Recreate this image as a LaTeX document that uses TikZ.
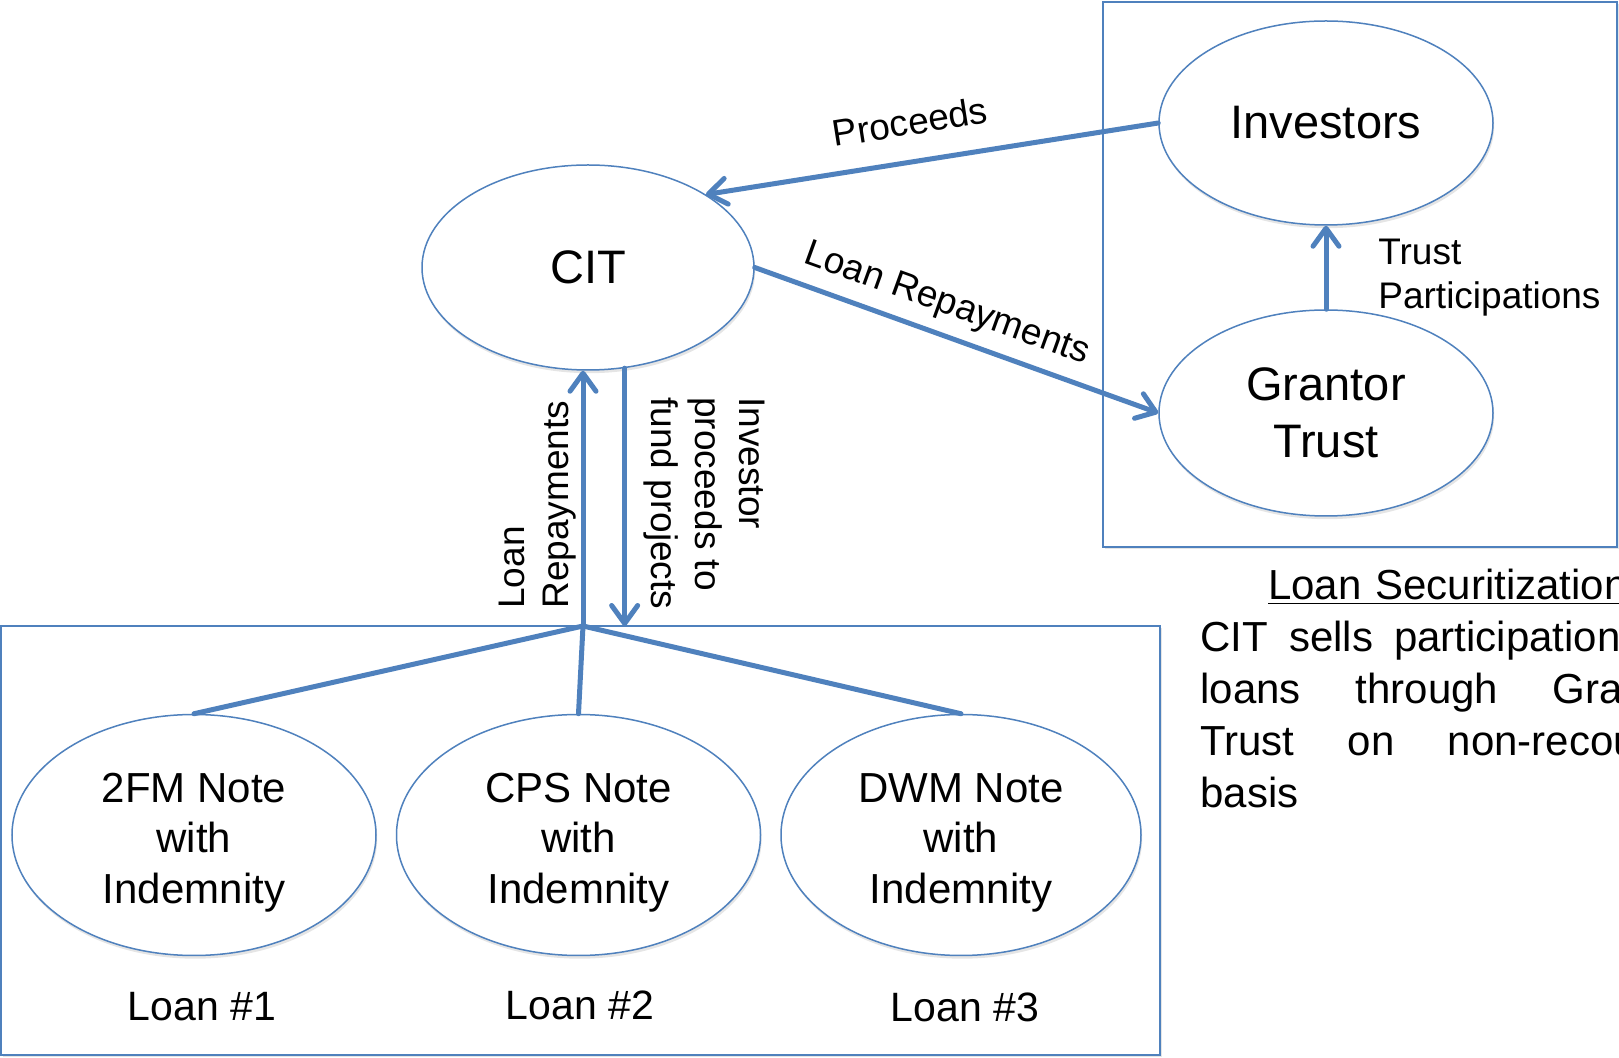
\documentclass[tikz,border=0pt]{standalone}
\usepackage{fontspec}
\setmainfont{Liberation Sans}
\usetikzlibrary{shapes.geometric,arrows.meta,shadows}
\definecolor{pptblue}{RGB}{79,129,189}
\newcommand{\topgap}{\rule{0pt}{22.2pt}}

\begin{document}
\begin{tikzpicture}[x=0.5pt,y=-0.5pt,
    bubble/.style={ellipse,draw=pptblue,line width=0.75pt,fill=white,inner sep=0pt,
        drop shadow={opacity=0.2,shadow xshift=0.6pt,shadow yshift=-1.6pt}},
    loanbubble/.style={bubble,minimum width=182pt,minimum height=120.5pt,align=center,
        font=\fontsize{21}{25.25}\selectfont},
    flowline/.style={draw=pptblue,line width=2.5pt,line cap=round},
    flowarrow/.style={flowline,-{Straight Barb[length=9pt,width=13pt,round]}},
    panel/.style={draw=pptblue,line width=0.8pt,fill=white,
        drop shadow={opacity=0.2,shadow xshift=0.8pt,shadow yshift=-1.2pt}},
    lbl/.style={inner sep=0pt,font=\fontsize{18.5}{22}\selectfont}]
  \path[use as bounding box,fill=white] (0,0) rectangle (1619,1058);
  \clip (0,0) rectangle (1619,1058);
  % boxes
  \draw[panel] (1103,2) rectangle (1617,547);
  \draw[panel] (1,626) rectangle (1160,1055);
  % parties
  \node[bubble,minimum width=166pt,minimum height=102.5pt,font=\fontsize{23.5}{28.5}\selectfont] (cit) at (588,267.5) {CIT};
  \node[bubble,minimum width=167pt,minimum height=102pt,font=\fontsize{23.5}{28.5}\selectfont] (inv) at (1326,123) {Investors};
  \node[bubble,minimum width=167pt,minimum height=103pt,font=\fontsize{23.5}{28.5}\selectfont,align=center] (grt) at (1326,413) {Grantor\\Trust};
  % loans
  \node[loanbubble] (loan1) at (194,835) {\topgap 2FM Note\\with\\Indemnity};
  \node[loanbubble] (loan2) at (578.5,835) {\topgap CPS Note\\with\\Indemnity};
  \node[loanbubble,minimum width=180pt] (loan3) at (961,835) {\topgap DWM Note\\with\\Indemnity};
  \node[font=\fontsize{20.5}{24}\selectfont,inner sep=0pt] (num1) at (202,1007) {Loan \#1};
  \node[font=\fontsize{20.5}{24}\selectfont,inner sep=0pt] (num2) at (580,1005) {Loan \#2};
  \node[font=\fontsize{20.5}{24}\selectfont,inner sep=0pt] (num3) at (965,1007) {Loan \#3};
  % flows
  \draw[flowarrow] (inv.west) -- node[lbl,pos=0.535,sloped,above=12pt] {Proceeds} (cit.north east);
  \draw[flowarrow] (cit.east) -- node[lbl,pos=0.45,sloped,above=5.4pt] {Loan Repayments} (grt.west);
  \draw[flowarrow] (grt.north) -- (inv.south);
  \node[lbl,anchor=north west,align=left] (tplbl) at (1378,239) {Trust\\Participations};
  \coordinate (jn) at (583,626);
  \draw[flowline] (jn) -- (loan1.north);
  \draw[flowline] (jn) -- (loan2.north);
  \draw[flowline] (jn) -- (loan3.north);
  \draw[flowarrow] (jn) -- (jn |- cit.south);
  \draw[flowarrow] (cit.290) -- (cit.290 |- jn);
  \node[lbl,rotate=90,anchor=south west,align=left] (uplbl) at (577,609) {Loan\\Repayments};
  \node[lbl,rotate=-90,anchor=south west,align=left] (dnlbl) at (643,397) {Investor\\proceeds to\\fund projects};
  % securitization note
  \node[anchor=north west,inner sep=0pt,text width=247.5pt,align=left,font=\fontsize{21}{26}\selectfont] (secnote) at (1200,569)
    {\makebox[\linewidth]{\underline{Loan Securitization}}\\
     CIT\hfill sells\hfill participations\hfill in\\
     loans\hfill through\hfill Grantor\\
     Trust\hfill on\hfill non-recourse\\
     basis};
\end{tikzpicture}
\end{document}
